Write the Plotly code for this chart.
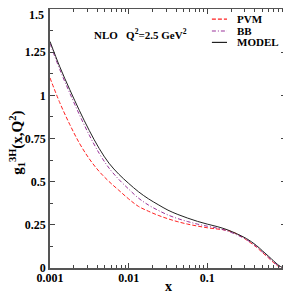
import plotly.graph_objects as go

x_vals = [0.001, 0.00133, 0.00178, 0.00237, 0.00316, 0.00422, 0.00562, 0.0075,
          0.01, 0.0133, 0.0178, 0.0237, 0.0316, 0.0422, 0.0562, 0.075,
          0.1, 0.133, 0.178, 0.237, 0.316, 0.422, 0.5, 0.6, 0.7, 0.75, 0.8, 0.9, 1.0]

pvm = [1.101, 0.958, 0.832, 0.722, 0.632, 0.559, 0.501, 0.450,
       0.400, 0.357, 0.329, 0.305, 0.285, 0.268, 0.254, 0.243,
       0.233, 0.226, 0.218, 0.198, 0.162, 0.12, 0.09, 0.058, 0.03, 0.019, 0.01, 0.002, 0.0]
bb = [1.300, 1.150, 1.014, 0.887, 0.769, 0.664, 0.579, 0.513,
      0.457, 0.405, 0.365, 0.334, 0.307, 0.286, 0.269, 0.254,
      0.242, 0.231, 0.215, 0.192, 0.164, 0.124, 0.094, 0.062, 0.034, 0.022, 0.012, 0.002, 0.0]
model = [1.312, 1.166, 1.034, 0.911, 0.796, 0.692, 0.607, 0.543,
         0.490, 0.442, 0.401, 0.367, 0.335, 0.310, 0.289, 0.270,
         0.254, 0.240, 0.222, 0.198, 0.170, 0.130, 0.100, 0.068, 0.040, 0.028, 0.017, 0.003, 0.0]

series_names = ["PVM", "BB", "MODEL"]
x_ticks = [0.001, 0.01, 0.1, 1]
x_ticktext = ["0.001", "0.01", "0.1", "1"]
y_ticks = [0, 0.25, 0.5, 0.75, 1, 1.25, 1.5]
y_ticktext = ["0", "0.25", "0.5", "0.75", "1", "1.25", "1.5"]

FONT = "Liberation Serif"
colors = ["#ff2020", "#993399", "#222222"]
dashes = ["4px,2px", "4px,2px,1px,2px", "solid"]

fig = go.Figure()
for name, ys, c, d in zip(series_names, [pvm, bb, model], colors, dashes):
    fig.add_trace(go.Scatter(x=x_vals, y=ys, mode="lines", name=name, line_shape="spline",
                             line=dict(color=c, width=1, dash=d, smoothing=1.0)))

minor_x = []
for dd in [0.001, 0.01, 0.1]:
    for k in range(2, 10):
        minor_x.append(dd * k)

# top tick label would fall outside the page: show it as a label just below the edge
y_labels_shown = [t if v < max(y_ticks) else "" for v, t in zip(y_ticks, y_ticktext)]

leg_rows = [0.961, 0.915, 0.871]
shapes = []
annotations = []
for name, c, d, yr in zip(series_names, colors, dashes, leg_rows):
    shapes.append(dict(type="line", xref="paper", yref="paper", x0=0.686, x1=0.75, y0=yr, y1=yr,
                       line=dict(color=c, width=1.2, dash=d)))
    annotations.append(dict(x=0.784, y=yr, xref="paper", yref="paper", xanchor="left", yanchor="middle",
                            text=name, showarrow=False,
                            font=dict(family=FONT, size=11, color="black", weight="bold")))

annotations.append(dict(x=-0.017, y=0.976, xref="paper", yref="paper", xanchor="right", yanchor="middle",
                        text=y_ticktext[-1], showarrow=False,
                        font=dict(family=FONT, size=12, color="black", weight="bold")))
annotations.append(dict(x=0.178, y=0.903, xref="paper", yref="paper", xanchor="left", yanchor="middle",
                        text="NLO   Q<sup>2</sup>=2.5 GeV<sup>2</sup>", showarrow=False,
                        font=dict(family=FONT, size=11, color="black", weight="bold")))
annotations.append(dict(x=0.5, y=-0.073, xref="paper", yref="paper", xanchor="center", yanchor="middle",
                        text="x", showarrow=False,
                        font=dict(family=FONT, size=14, color="black", weight="bold")))
annotations.append(dict(x=-0.14, y=0.483, xref="paper", yref="paper", xanchor="center", yanchor="middle",
                        text="g<sub>1</sub><sup>3H</sup>(x,Q<sup>2</sup>)", showarrow=False, textangle=-90,
                        font=dict(family=FONT, size=15, color="black", weight="bold")))

fig.update_layout(
    width=291, height=293,
    margin=dict(l=42, r=13, t=1, b=33, autoexpand=False),
    paper_bgcolor="white", plot_bgcolor="white",
    font=dict(family=FONT, size=12, color="black"),
    showlegend=False,
    shapes=shapes,
    annotations=annotations,
    xaxis=dict(type="log", range=[-3, 0], tickvals=x_ticks, ticktext=x_ticktext,
               ticks="inside", ticklen=5, tickwidth=1, tickcolor="#444",
               showline=True, linecolor="#555", linewidth=1.5, mirror="ticks",
               showgrid=False, zeroline=False, automargin=False, ticklabelstandoff=-2,
               tickfont=dict(family=FONT, size=12, weight="bold"),
               minor=dict(tickvals=minor_x, ticks="inside", ticklen=3, tickcolor="#444", showgrid=False)),
    yaxis=dict(range=[0, 1.5], tickvals=y_ticks, ticktext=y_labels_shown,
               ticks="inside", ticklen=5, tickwidth=1, tickcolor="#444",
               showline=True, linecolor="#555", linewidth=1.5, mirror="ticks",
               showgrid=False, zeroline=False, automargin=False,
               tickfont=dict(family=FONT, size=12, weight="bold"),
               minor=dict(dtick=0.125, ticks="inside", ticklen=3, tickcolor="#444", showgrid=False)),
)

fig.write_html("out.html")
